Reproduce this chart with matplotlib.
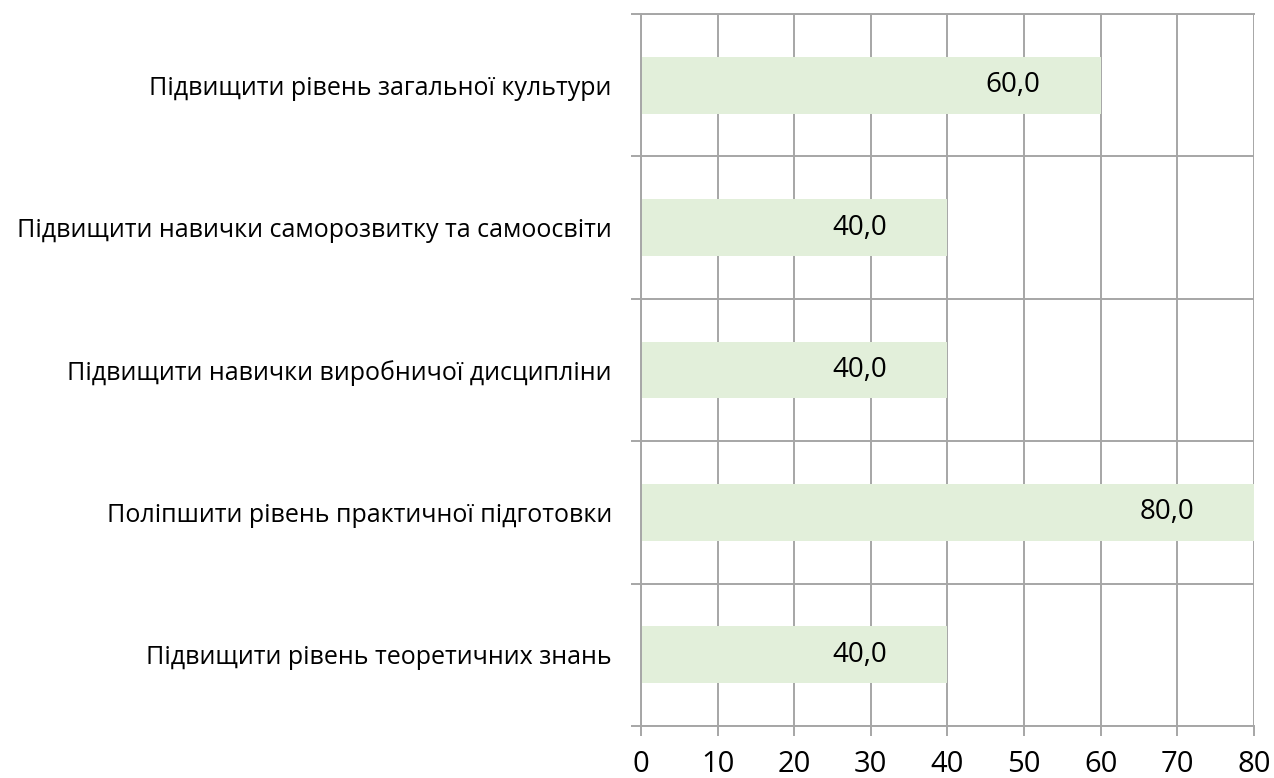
import matplotlib.pyplot as plt
import numpy as np

categories = [
    "Підвищити рівень загальної культури",
    "Підвищити навички саморозвитку та самоосвіти",
    "Підвищити навички виробничої дисципліни",
    "Поліпшити рівень практичної підготовки",
    "Підвищити рівень теоретичних знань",
]
values = [60.0, 40.0, 40.0, 80.0, 40.0]
x_ticks = [0, 10, 20, 30, 40, 50, 60, 70, 80]

plt.rcParams["font.family"] = ["Open Sans", "DejaVu Sans"]
grid_color = "#A6A6A6"

fig = plt.figure(figsize=(12.74, 7.78), dpi=100)
ax = fig.add_axes([0.5031, 0.0668, 0.4812, 0.9152])

y = np.arange(len(categories))
ax.barh(y, values, height=0.4, color="#E2EFDA", zorder=2)

for yi, v in zip(y, values):
    ax.annotate(f"{v:.1f}".replace(".", ","), (v, yi), xytext=(-60, 0),
                textcoords="offset pixels", ha="right", va="center",
                fontsize=20, color="black", zorder=3)

ax.set_xlim(0, 80)
ax.set_ylim(len(categories) - 0.5, -0.5)
ax.set_xticks(x_ticks)
ax.set_yticks(y)
ax.set_yticklabels(categories)
ax.set_yticks(np.arange(len(categories) + 1) - 0.5, minor=True)

ax.grid(axis="x", color=grid_color, linewidth=1.4, zorder=1)
ax.grid(axis="y", which="minor", color=grid_color, linewidth=1.4, zorder=1)

ax.tick_params(axis="x", length=7, width=1.4, color=grid_color, pad=10,
               labelsize=21)
ax.tick_params(axis="y", which="major", length=0, pad=21, labelsize=18)
ax.tick_params(axis="y", which="minor", length=7, width=1.4, color=grid_color)

for side in ["left", "bottom", "top"]:
    ax.spines[side].set_color(grid_color)
    ax.spines[side].set_linewidth(1.4)
ax.spines["right"].set_visible(False)

fig.savefig("out.png", dpi=100)
